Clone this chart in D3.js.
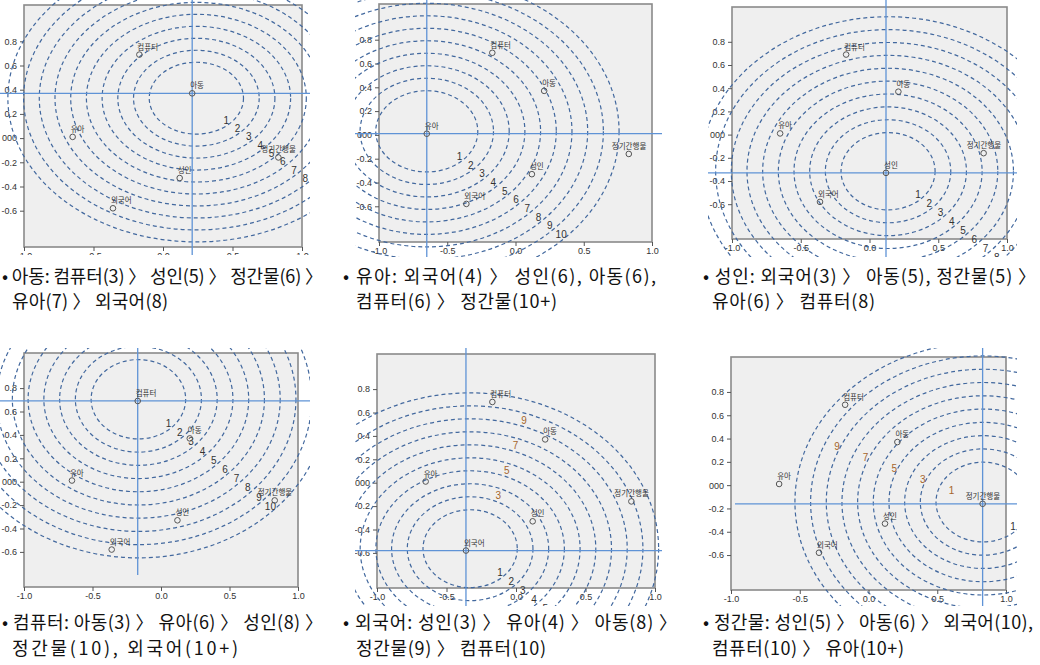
<!DOCTYPE html>
<html>
<head>
<meta charset="utf-8">
<script src="https://cdn.jsdelivr.net/npm/d3@7"></script>
<style>
  body { margin: 0; background: #fff; }
</style>
</head>
<body>
<svg id="chart" width="1040" height="665"></svg>
<script>
// stimulus points, identical in every panel
const names  = ["컴퓨터", "아동", "유아", "성인", "외국어", "정기간행물"];
const pointX = [-0.17, 0.21, -0.65, 0.12, -0.36, 0.83];
const pointY = [0.69, 0.37, 0.01, -0.33, -0.58, -0.16];

// one panel per focus stimulus, with its distance rings
const focus     = ["아동", "유아", "성인", "컴퓨터", "외국어", "정기간행물"];
const ringCx    = [0.24, -0.65, 0.135, -0.165, -0.33, 0.833];
const ringCy    = [0.33, 0.03, -0.316, 0.705, -0.564, -0.145];
const ringStepX = [0.113, 0.115, 0.114, 0.115, 0.113, 0.114];
const ringStepY = [0.099, 0.105, 0.111, 0.113, 0.111, 0.114];
const ringBase  = [2, 2.25, 2, 2, 2, 2];
const ringLevels = [1, 2, 3, 4, 5, 6, 7, 8, 9, 10];
const oddLevels  = [[], [], [], [], [3, 5, 7, 9], [1, 3, 5, 7, 9]];

const xTicks = [-1, -0.5, 0, 0.5, 1];
const xTickLabels = ["-1.0", "-0.5", "0.0", "0.5", "1.0"];
const yTicks = [0.8, 0.6, 0.4, 0.2, 0, -0.2, -0.4, -0.6];
const yTickLabels = ["0.8", "0.6", "0.4", "0.2", "000", "-0.2", "-0.4", "-0.6"];

const captions = [
  ["아동: 컴퓨터(3) 〉 성인(5) 〉 정간물(6) 〉", "유아(7) 〉 외국어(8)"],
  ["유아: 외국어(4) 〉 성인(6), 아동(6),", "컴퓨터(6) 〉 정간물(10+)"],
  ["성인: 외국어(3) 〉 아동(5), 정간물(5) 〉", "유아(6) 〉 컴퓨터(8)"],
  ["컴퓨터: 아동(3) 〉 유아(6) 〉 성인(8) 〉", "정간물(10), 외국어(10+)"],
  ["외국어: 성인(3) 〉 유아(4) 〉 아동(8) 〉", "정간물(9) 〉 컴퓨터(10)"],
  ["정간물: 성인(5) 〉 아동(6) 〉 외국어(10),", "컴퓨터(10) 〉 유아(10+)"]
];

// pixel layout of each cropped sub-figure
const layout = [
  {frame: [24, 5, 302, 247],    crop: [0, 0, 310, 255],      hx0: null, vy1: null},
  {frame: [379, 4, 652, 242],   crop: [355, 0, 662, 257],    hx0: null, vy1: null},
  {frame: [732, 7, 1007, 239],  crop: [708, 0, 1017, 257],   hx0: null, vy1: null},
  {frame: [24, 353, 298, 587],  crop: [0, 348, 310, 606],    hx0: null, vy1: 575},
  {frame: [377, 354, 655, 588], crop: [355, 348, 662, 606],  hx0: null, vy1: null},
  {frame: [731, 357, 1006, 590], crop: [708, 348, 1017, 606], hx0: 735, vy1: null}
];
// placement of the second (coloured) ring-number set: angle, inset, x shift (in ring steps)
const oddPlace = [null, null, null, null, [74, 0.7, 0.6], [156, 0.8, 0]];
const capX = [[2, 12], [343, 356], [703, 712], [2, 12], [343, 356], [703, 712]];
const capY = [[283, 308], [283, 308], [283, 308], [629, 655], [629, 655], [629, 655]];
const capW = [[321, 156], [313, 201], [333, 163], [321, 226], [334, 190], [330, 192]];

const svg = d3.select("#chart");
const defs = svg.append("defs");
const tickFont = "'Liberation Sans', Arial, sans-serif";
const krFont = "'Noto Sans CJK KR', sans-serif";

layout.forEach((L, p) => {
  const [fx0, fy0, fx1, fy1] = L.frame;
  const [cx0, cy0, cx1, cy1] = L.crop;
  const x = d3.scaleLinear().domain([-1, 1]).range([fx0, fx1]);
  const y = d3.scaleLinear().domain([-0.9, 1.1]).range([fy1, fy0]);
  const inCrop = pt => pt[0] > cx0 - 3 && pt[0] < cx1 + 3 && pt[1] > cy0 - 3 && pt[1] < cy1 + 3;

  defs.append("clipPath").attr("id", "clip" + p)
    .append("rect").attr("x", cx0).attr("y", cy0)
    .attr("width", cx1 - cx0).attr("height", cy1 - cy0);

  const g = svg.append("g").attr("clip-path", `url(#clip${p})`);

  g.append("rect")
    .attr("x", fx0).attr("y", fy0)
    .attr("width", fx1 - fx0).attr("height", fy1 - fy0)
    .attr("fill", "#efefef")
    .attr("stroke", "#8a8a8a")
    .attr("stroke-width", 1.6);

  // axes
  const yAxis = d3.axisLeft(y).tickValues(yTicks).tickSize(4)
    .tickFormat((d, i) => yTickLabels[i]);
  const gy = g.append("g").attr("transform", `translate(${fx0},0)`).call(yAxis);
  const xAxis = d3.axisBottom(x).tickValues(xTicks).tickSize(4)
    .tickFormat((d, i) => xTickLabels[i]);
  const gx = g.append("g").attr("transform", `translate(0,${fy1})`).call(xAxis);
  [gx, gy].forEach(a => {
    a.select(".domain").remove();
    a.selectAll("line").attr("stroke", "#555");
    a.selectAll("text").attr("fill", "#333").attr("font-size", 9)
      .attr("font-family", tickFont);
  });
  gx.selectAll("text").attr("dy", "0.55em");

  // distance rings
  const cx = ringCx[p], cy = ringCy[p];
  const sx = ringStepX[p], sy = ringStepY[p], b = ringBase[p];
  g.selectAll("ellipse.ring")
    .data(ringLevels)
    .join("ellipse")
    .attr("class", "ring")
    .attr("cx", x(cx)).attr("cy", y(cy))
    .attr("rx", k => x(cx + sx * (k + b)) - x(cx))
    .attr("ry", k => y(cy) - y(cy + sy * (k + b)))
    .attr("fill", "none")
    .attr("stroke", "#42689e")
    .attr("stroke-width", 1.2)
    .attr("stroke-dasharray", "4,3");

  // crosshair through the focus stimulus
  const fi = names.indexOf(focus[p]);
  g.append("line")
    .attr("x1", L.hx0 == null ? cx0 : L.hx0).attr("x2", cx1)
    .attr("y1", y(pointY[fi])).attr("y2", y(pointY[fi]))
    .attr("stroke", "#5f93d6").attr("stroke-width", 1.3);
  g.append("line")
    .attr("x1", x(pointX[fi])).attr("x2", x(pointX[fi]))
    .attr("y1", cy0).attr("y2", L.vy1 == null ? cy1 : L.vy1)
    .attr("stroke", "#5f93d6").attr("stroke-width", 1.3);

  // ring numbers
  const ringLabel = (k, deg, inset, shift) => {
    const r = k + b - inset, t = deg * Math.PI / 180;
    return [x(cx + sx * (r * Math.cos(t) + shift)), y(cy + sy * r * Math.sin(t))];
  };
  const mainNums = ringLevels
    .map(k => ({k, pos: ringLabel(k, -44, 0.35, 0)}))
    .filter(d => inCrop(d.pos));
  g.selectAll("text.rn")
    .data(mainNums)
    .join("text")
    .attr("class", "rn")
    .attr("x", d => d.pos[0])
    .attr("y", d => d.pos[1])
    .attr("text-anchor", "middle")
    .attr("dominant-baseline", "central")
    .attr("font-family", tickFont)
    .attr("font-size", 10)
    .attr("fill", "#333")
    .text(d => d.k);
  if (oddPlace[p]) {
    const [ang, inset, shift] = oddPlace[p];
    const oddNums = oddLevels[p]
      .map(k => ({k, pos: ringLabel(k, ang, inset, shift)}))
      .filter(d => inCrop(d.pos));
    g.selectAll("text.ro")
      .data(oddNums)
      .join("text")
      .attr("class", "ro")
      .attr("x", d => d.pos[0])
      .attr("y", d => d.pos[1])
      .attr("text-anchor", "middle")
      .attr("dominant-baseline", "central")
      .attr("font-family", tickFont)
      .attr("font-size", 10)
      .attr("fill", "#a5652c")
      .text(d => d.k);
  }

  // stimulus points
  g.selectAll("circle.pt")
    .data(names)
    .join("circle")
    .attr("class", "pt")
    .attr("cx", (d, i) => x(pointX[i]))
    .attr("cy", (d, i) => y(pointY[i]))
    .attr("r", 2.8)
    .attr("fill", "none")
    .attr("stroke", "#555")
    .attr("stroke-width", 1);
  g.selectAll("text.pl")
    .data(names)
    .join("text")
    .attr("class", "pl")
    .attr("x", (d, i) => x(pointX[i]) + (d.length > 3 ? -17 : -2))
    .attr("y", (d, i) => y(pointY[i]) - 5)
    .attr("font-family", krFont)
    .attr("font-size", 7.5)
    .attr("fill", "#333")
    .text(d => d);

  // caption
  const cap = svg.append("g").attr("font-family", krFont)
    .attr("font-size", 18).attr("fill", "#111");
  cap.append("text").attr("x", capX[p][0]).attr("y", capY[p][0])
    .attr("textLength", capW[p][0]).attr("lengthAdjust", "spacing")
    .text("• " + captions[p][0]);
  cap.append("text").attr("x", capX[p][1]).attr("y", capY[p][1])
    .attr("textLength", capW[p][1]).attr("lengthAdjust", "spacing")
    .text(captions[p][1]);
});
</script>
</body>
</html>
